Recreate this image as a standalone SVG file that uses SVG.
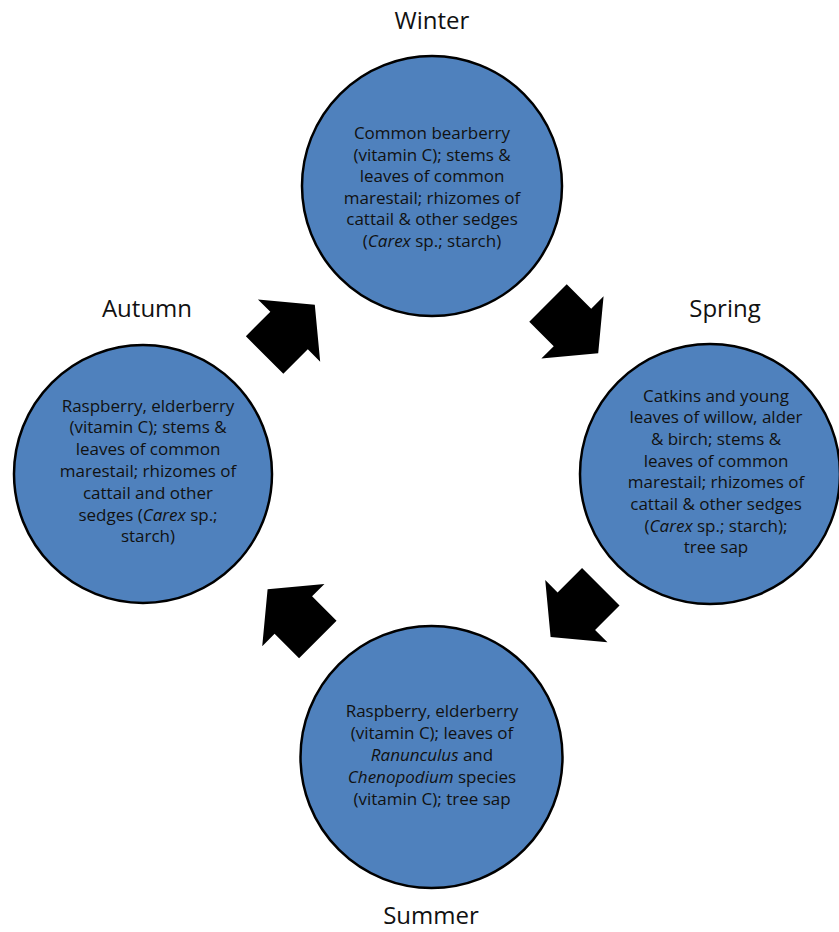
<svg xmlns="http://www.w3.org/2000/svg" width="839" height="932" viewBox="0 0 839 932">
<style>
.c{fill:#4F81BD;stroke:#000;stroke-width:2.5}
.t{font-family:"Open Sans","Liberation Sans",sans-serif;font-size:17px;fill:#111;text-anchor:middle}
.l{font-family:"Open Sans","Liberation Sans",sans-serif;font-size:24px;fill:#111;text-anchor:middle}
.a{fill:#000}
</style>
<defs>
<polygon id="arr" points="0,-26.5 34.6,-26.5 34.6,-44 71,0 34.6,44 34.6,26.5 0,26.5"/>
</defs>
<rect width="839" height="932" fill="#fff"/>
<g id="winter">
<circle class="c" cx="432" cy="186" r="130"/>
<text class="t" x="432" y="139">Common bearberry</text>
<text class="t" x="432" y="160.5">(vitamin C); stems &amp;</text>
<text class="t" x="432" y="182">leaves of common</text>
<text class="t" x="432" y="203.5">marestail; rhizomes of</text>
<text class="t" x="432" y="225">cattail &amp; other sedges</text>
<text class="t" x="432" y="246.5">(<tspan font-style="italic">Carex</tspan> sp.; starch)</text>
<text class="l" x="432" y="29">Winter</text>
</g>
<g id="spring">
<circle class="c" cx="710" cy="474" r="130"/>
<text class="t" x="716" y="401.7">Catkins and young</text>
<text class="t" x="716" y="423.4">leaves of willow, alder</text>
<text class="t" x="716" y="445">&amp; birch; stems &amp;</text>
<text class="t" x="716" y="466.7">leaves of common</text>
<text class="t" x="716" y="488.3">marestail; rhizomes of</text>
<text class="t" x="716" y="510">cattail &amp; other sedges</text>
<text class="t" x="716" y="531.7">(<tspan font-style="italic">Carex</tspan> sp.; starch);</text>
<text class="t" x="716" y="553.3">tree sap</text>
<text class="l" x="725" y="317">Spring</text>
</g>
<g id="summer">
<circle class="c" cx="431.5" cy="757" r="131"/>
<text class="t" x="432" y="716.7">Raspberry, elderberry</text>
<text class="t" x="432" y="738.7">(vitamin C); leaves of</text>
<text class="t" x="432" y="760.7"><tspan font-style="italic">Ranunculus</tspan> and</text>
<text class="t" x="432" y="782.7"><tspan font-style="italic">Chenopodium</tspan> species</text>
<text class="t" x="432" y="804.7">(vitamin C); tree sap</text>
<text class="l" x="431" y="924">Summer</text>
</g>
<g id="autumn">
<circle class="c" cx="143" cy="474" r="129"/>
<text class="t" x="148" y="411.7">Raspberry, elderberry</text>
<text class="t" x="148" y="433.4">(vitamin C); stems &amp;</text>
<text class="t" x="148" y="455.2">leaves of common</text>
<text class="t" x="148" y="477">marestail; rhizomes of</text>
<text class="t" x="148" y="498.8">cattail and other</text>
<text class="t" x="148" y="520.6">sedges (<tspan font-style="italic">Carex</tspan> sp.;</text>
<text class="t" x="148" y="542.3">starch)</text>
<text class="l" x="147" y="317">Autumn</text>
</g>
<g id="connectors">
<use href="#arr" class="a" transform="translate(548,303) rotate(45)"/>
<use href="#arr" class="a" transform="translate(600.8,586.7) rotate(135)"/>
<use href="#arr" class="a" transform="translate(317.8,639.5) rotate(225)"/>
<use href="#arr" class="a" transform="translate(264.6,355) rotate(-45)"/>
</g>
</svg>
